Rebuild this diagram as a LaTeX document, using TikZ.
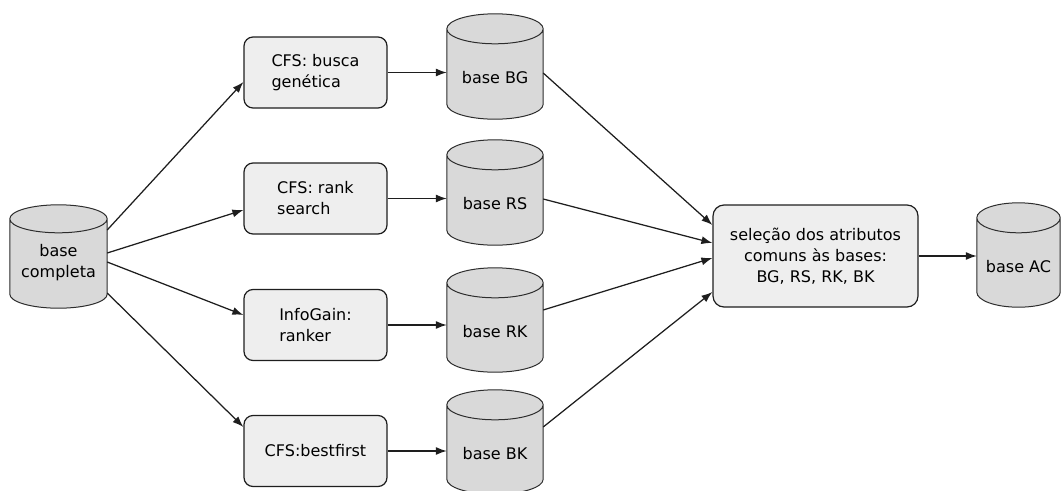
\documentclass[tikz,border=0pt]{standalone}
\usepackage{fontspec}
\setmainfont{DejaVu Sans}
\usetikzlibrary{arrows.meta,calc,backgrounds}
\definecolor{boxfill}{RGB}{238,238,238}
\definecolor{cylfill}{RGB}{217,217,217}
\definecolor{linec}{RGB}{30,30,30}
\definecolor{cylline}{RGB}{45,45,45}
\newcommand\fs{\fontsize{16pt}{21pt}\selectfont}
\newcommand\cyltext[2]{\raisebox{-#1pt}[\height][\depth]{\begin{tabular}{@{}c@{}}#2\end{tabular}}}
\newcommand\drawcyl[2]{%
  \path[cylshape] let \p1=(#1.north west), \p2=(#1.south east), \n1={(\x2-\x1)/2} in
    (\x1,{\y1-#2}) -- (\x1,{\y2+#2})
    arc[start angle=180,end angle=360,x radius=\n1,y radius=#2]
    -- (\x2,{\y1-#2})
    arc[start angle=0,end angle=180,x radius=\n1,y radius=#2] -- cycle
    (\x1,{\y1-#2}) arc[start angle=180,end angle=360,x radius=\n1,y radius=#2];
}
\tikzset{
  box/.style={draw=linec, fill=boxfill, rounded corners=9pt, line width=1.2pt,
    minimum width=143pt, minimum height=71pt, align=left, font=\fs, inner sep=0pt},
  cylnode/.style={rectangle, inner sep=0pt, font=\fs},
  cylshape/.style={draw=cylline, fill=cylfill, line width=1pt},
  arr/.style={-{Latex[length=11pt,width=8pt]}, line width=1.25pt, draw=linec},
}
\begin{document}
\begin{tikzpicture}[x=1pt,y=1pt]
\useasboundingbox (0,0) rectangle (1062,-490);
% cylinders (nodes)
\node[cylnode, minimum width=97pt, minimum height=103pt] (comp) at (58.5,-256.5) {\cyltext{6}{base\\completa}};
\node[cylnode, minimum width=96pt, minimum height=105pt] (bg) at (495,-66.5) {\cyltext{13}{base BG}};
\node[cylnode, minimum width=96pt, minimum height=105pt] (rs) at (495,-192.5) {\cyltext{13}{base RS}};
\node[cylnode, minimum width=96pt, minimum height=104pt] (rk) at (495,-320) {\cyltext{13}{base RK}};
\node[cylnode, minimum width=96pt, minimum height=104pt] (bk) at (495,-442) {\cyltext{13}{base BK}};
\node[cylnode, minimum width=83pt, minimum height=104pt] (ac) at (1018.5,-255) {\cyltext{13}{base AC}};
% boxes
\node[box] (b1) at (315.5,-72.5) {CFS: busca\\genética};
\node[box] (b2) at (315.5,-198.5) {CFS: rank\\search};
\node[box] (b3) at (315.5,-325) {InfoGain:\\ranker};
\node[box] (b4) at (315.5,-451) {CFS:bestfirst};
\node[box, align=center, minimum width=205pt, minimum height=102pt, rounded corners=11pt] (sel) at (815.5,-256)
  {seleção dos atributos\\comuns às bases:\\BG, RS, RK, BK};
\begin{scope}[on background layer]
\drawcyl{comp}{14pt}
\drawcyl{bg}{15pt}
\drawcyl{rs}{15pt}
\drawcyl{rk}{15pt}
\drawcyl{bk}{15pt}
\drawcyl{ac}{15pt}
\end{scope}
% connectors
\draw[arr] ([yshift=26.5pt]comp.east) -- ([yshift=-9.5pt]b1.west);
\draw[arr] ([yshift=3.5pt]comp.east) -- ([yshift=-11.5pt]b2.west);
\draw[arr] ([yshift=-5.5pt]comp.east) -- ([yshift=10pt]b3.west);
\draw[arr] ([yshift=-36.5pt]comp.east) -- ([yshift=24pt]b4.west);
\draw[arr] (b1.east) -- (b1.east -| bg.west);
\draw[arr] (b2.east) -- (b2.east -| rs.west);
\draw[arr] (b3.east) -- (b3.east -| rk.west);
\draw[arr] (b4.east) -- (b4.east -| bk.west);
\draw[arr] ([yshift=-6.5pt]bg.east) -- ([yshift=31pt]sel.west);
\draw[arr] ([yshift=-6.5pt]rs.east) -- ([yshift=13pt]sel.west);
\draw[arr] ([yshift=10pt]rk.east) -- ([yshift=-2pt]sel.west);
\draw[arr] ([yshift=15pt]bk.east) -- ([yshift=-36pt]sel.west);
\draw[arr] (sel.east) -- (sel.east -| ac.west);
\end{tikzpicture}
\end{document}
